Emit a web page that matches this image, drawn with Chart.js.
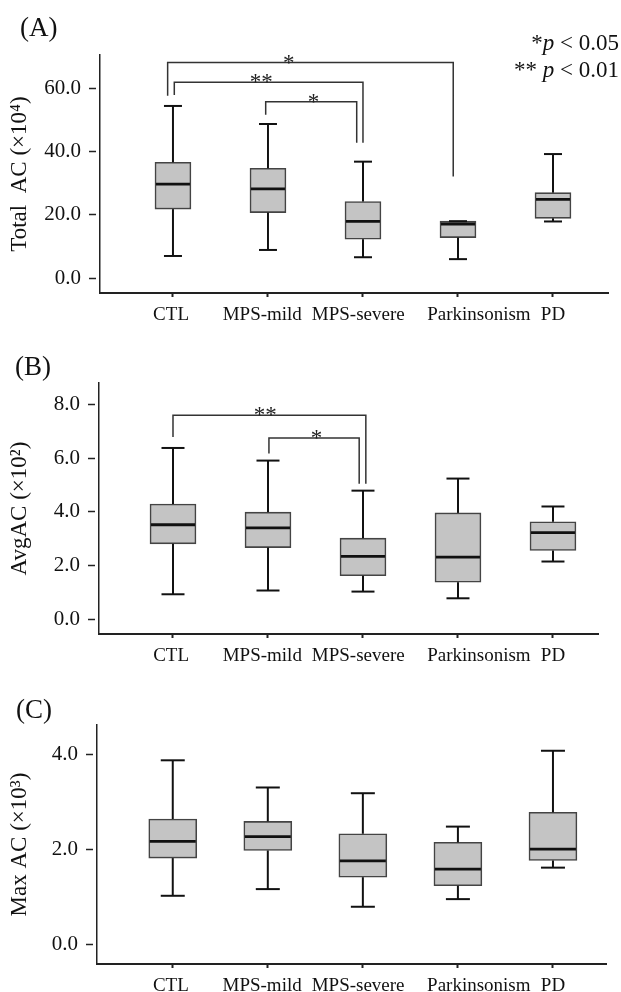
<!DOCTYPE html>
<html>
<head>
<meta charset="utf-8">
<script src="https://cdn.jsdelivr.net/npm/chart.js@4"></script>
<style>
  html, body { margin: 0; padding: 0; background: #fff; }
  body { width: 621px; height: 992px; position: relative; overflow: hidden; }
  canvas { position: absolute; left: 0; }
</style>
</head>
<body>
<canvas id="panelA" width="621" height="330" style="top:0px"></canvas>
<canvas id="panelB" width="621" height="340" style="top:330px"></canvas>
<canvas id="panelC" width="621" height="332" style="top:660px"></canvas>
<script>
const categories = ["CTL", "MPS-mild", "MPS-severe", "Parkinsonism", "PD"];
// where each group name is centred on the x axis (category 1..5)
const labelAt = [0.98, 1.94, 2.95, 4.22, 5.0];

// (A) Total AC (x10^4)
const totalMin = [7.0, 8.9, 6.6, 6.0, 17.9];
const totalQ1 = [21.8, 20.7, 12.3, 12.8, 18.9];
const totalMed = [29.7, 28.2, 17.9, 17.1, 24.9];
const totalQ3 = [36.6, 34.7, 24.2, 18.0, 27.0];
const totalMax = [54.4, 48.7, 36.8, 18.0, 39.2];
const totalTicks = [0, 20, 40, 60];
const totalPairs = [[0.944, 3.95], [1.014, 3.0], [1.976, 2.934]];
const totalPairTop = [68.1, 61.9, 55.7];
const totalPairLeftEnd = [57.6, 57.9, 51.6];
const totalPairRightEnd = [32.1, 42.8, 42.8];
const totalPairMark = ["*", "**", "*"];
const totalMarkX = [2.22, 1.93, 2.48];

// (B) AvgAC (x10^2)
const avgMin = [0.93, 1.07, 1.03, 0.78, 2.15];
const avgQ1 = [2.81, 2.67, 1.62, 1.38, 2.56];
const avgMed = [3.52, 3.40, 2.34, 2.31, 3.23];
const avgQ3 = [4.29, 3.99, 3.02, 3.96, 3.63];
const avgMax = [6.38, 5.91, 4.79, 5.24, 4.20];
const avgTicks = [0, 2, 4, 6, 8];
const avgPairs = [[1.0, 3.03], [2.01, 2.96]];
const avgPairTop = [7.60, 6.75];
const avgPairLeftEnd = [6.79, 6.17];
const avgPairRightEnd = [5.05, 5.05];
const avgPairMark = ["**", "*"];
const avgMarkX = [1.97, 2.51];

// (C) Max AC (x10^3)
const maxMin = [1.03, 1.17, 0.80, 0.96, 1.62];
const maxQ1 = [1.82, 1.98, 1.42, 1.24, 1.77];
const maxMed = [2.17, 2.27, 1.76, 1.59, 2.01];
const maxQ3 = [2.64, 2.59, 2.33, 2.15, 2.78];
const maxMax = [3.87, 3.30, 3.18, 2.48, 4.07];
const maxTicks = [0, 2, 4];

const SERIF = "'Liberation Serif', 'DejaVu Serif', serif";
const INK = "#111";

Chart.defaults.font.family = SERIF;
Chart.defaults.color = INK;

function boxParts(o) {
  const seg = (ctx, x1, y1, x2, y2) => {
    ctx.beginPath();
    ctx.moveTo(x1, y1);
    ctx.lineTo(x2, y2);
    ctx.stroke();
  };
  return {
    id: "boxParts",
    afterDatasetsDraw(chart) {
      const { ctx } = chart;
      const x = chart.scales.x, y = chart.scales.y;
      ctx.save();
      ctx.strokeStyle = INK;
      o.med.forEach((m, i) => {
        const cx = x.getPixelForValue(i + 1);
        const yMax = y.getPixelForValue(o.max[i]);
        const yMin = y.getPixelForValue(o.min[i]);
        ctx.lineWidth = 2;
        seg(ctx, cx, yMax, cx, y.getPixelForValue(o.q3[i]));
        seg(ctx, cx, y.getPixelForValue(o.q1[i]), cx, yMin);
        seg(ctx, cx - o.cap / 2, yMax, cx + o.cap / 2, yMax);
        seg(ctx, cx - o.cap / 2, yMin, cx + o.cap / 2, yMin);
        ctx.lineWidth = 2.8;
        const ym = y.getPixelForValue(m);
        seg(ctx, cx - o.box / 2 + 1, ym, cx + o.box / 2 - 1, ym);
      });

      // significance brackets
      ctx.strokeStyle = "#333";
      ctx.lineWidth = 1.5;
      ctx.fillStyle = "#222";
      ctx.font = "23px " + SERIF;
      ctx.textAlign = "center";
      ctx.textBaseline = "alphabetic";
      (o.pairs || []).forEach(([a, b], i) => {
        const xa = x.getPixelForValue(a), xb = x.getPixelForValue(b);
        const yt = y.getPixelForValue(o.top[i]);
        ctx.beginPath();
        ctx.moveTo(xa, y.getPixelForValue(o.leftEnd[i]));
        ctx.lineTo(xa, yt);
        ctx.lineTo(xb, yt);
        ctx.lineTo(xb, y.getPixelForValue(o.rightEnd[i]));
        ctx.stroke();
        ctx.fillText(o.marks[i], x.getPixelForValue(o.markX[i]), yt + 7);
      });
      ctx.restore();
    },
    afterDraw(chart) {
      const { ctx } = chart;
      ctx.save();
      ctx.fillStyle = INK;
      ctx.textBaseline = "alphabetic";
      ctx.textAlign = "left";
      ctx.font = "27px " + SERIF;
      ctx.fillText(o.letter, o.letterX, o.letterY);

      // p-value key, right aligned, italic p
      (o.notes || []).forEach((line, k) => {
        const fonts = line.map(([, it]) => (it ? "italic " : "") + "23px " + SERIF);
        let w = 0;
        line.forEach(([t], j) => { ctx.font = fonts[j]; w += ctx.measureText(t).width; });
        let px = 619 - w;
        line.forEach(([t], j) => {
          ctx.font = fonts[j];
          ctx.fillText(t, px, o.noteY[k]);
          px += ctx.measureText(t).width;
        });
      });
      ctx.restore();
    }
  };
}

function panel(id, o) {
  new Chart(document.getElementById(id), {
    type: "bar",
    data: {
      datasets: [{
        data: o.q1.map((lo, i) => ({ x: i + 1, y: [lo, o.q3[i]] })),
        backgroundColor: "#c4c4c4",
        borderColor: "#444",
        borderWidth: 1.6,
        borderSkipped: false,
        barThickness: o.box
      }]
    },
    options: {
      responsive: false,
      animation: false,
      layout: { padding: { left: 0, top: o.padTop, right: 621 - o.right, bottom: 0 } },
      plugins: { legend: { display: false }, tooltip: { enabled: false } },
      scales: {
        x: {
          type: "linear", min: o.xMin, max: o.xMax, offset: false,
          afterBuildTicks: s => { s.ticks = categories.map((c, i) => ({ value: i + 1 })); },
          afterFit: s => { s.height = 4; },
          ticks: { display: false },
          grid: { offset: false, drawOnChartArea: false, tickLength: 4, tickColor: "#222", tickWidth: 2 },
          border: { color: "#222", width: 2 }
        },
        xl: {
          type: "linear", position: "bottom", min: o.xMin, max: o.xMax, offset: false,
          afterBuildTicks: s => { s.ticks = labelAt.map(v => ({ value: v })); },
          afterFit: s => { s.height = o.xlHeight; },
          ticks: {
            callback: (v, i) => categories[i],
            autoSkip: false, maxRotation: 0, minRotation: 0,
            padding: 7, color: INK, font: { size: 19 }
          },
          grid: { offset: false, display: false, drawTicks: false },
          border: { display: false }
        },
        y: {
          type: "linear", min: o.yMin, max: o.yMax,
          afterBuildTicks: s => { s.ticks = o.ticks.map(v => ({ value: v })); },
          afterFit: s => { s.width = o.left; },
          ticks: { callback: v => v.toFixed(1), padding: 8, color: INK, font: { size: 21 } },
          grid: { drawOnChartArea: false, tickLength: 11, tickBorderDash: [7, 4], tickColor: "#222", tickWidth: 1.5 },
          border: { color: "#222", width: 1.5 },
          title: { display: true, text: o.title, color: INK, font: { size: 23 }, padding: { top: 6, bottom: 0 } }
        }
      }
    },
    plugins: [boxParts(o)]
  });
}

panel("panelA", {
  min: totalMin, q1: totalQ1, med: totalMed, q3: totalQ3, max: totalMax, ticks: totalTicks,
  pairs: totalPairs, top: totalPairTop, leftEnd: totalPairLeftEnd, rightEnd: totalPairRightEnd,
  marks: totalPairMark, markX: totalMarkX,
  title: "Total  AC (\u00d710\u2074)", letter: "(A)", letterX: 20, letterY: 36,
  notes: [[["*", false], ["p", true], [" < 0.05", false]], [["** ", false], ["p", true], [" < 0.01", false]]],
  noteY: [50, 77],
  yMin: -4.7, yMax: 70.5, xMin: 0.232, xMax: 5.579,
  left: 100, right: 608, padTop: 55, xlHeight: 33, box: 36, cap: 18
});

panel("panelB", {
  min: avgMin, q1: avgQ1, med: avgMed, q3: avgQ3, max: avgMax, ticks: avgTicks,
  pairs: avgPairs, top: avgPairTop, leftEnd: avgPairLeftEnd, rightEnd: avgPairRightEnd,
  marks: avgPairMark, markX: avgMarkX,
  title: "AvgAC (\u00d710\u00b2)", letter: "(B)", letterX: 15, letterY: 45,
  yMin: -0.55, yMax: 8.8, xMin: 0.221, xMax: 5.474,
  left: 99, right: 598, padTop: 53, xlHeight: 32, box: 46, cap: 23
});

panel("panelC", {
  min: maxMin, q1: maxQ1, med: maxMed, q3: maxQ3, max: maxMax, ticks: maxTicks,
  title: "Max AC (\u00d710\u00b3)", letter: "(C)", letterX: 16, letterY: 58,
  yMin: -0.4, yMax: 4.61, xMin: 0.203, xMax: 5.558,
  left: 97, right: 606, padTop: 65, xlHeight: 24, box: 48, cap: 24
});
</script>
</body>
</html>
